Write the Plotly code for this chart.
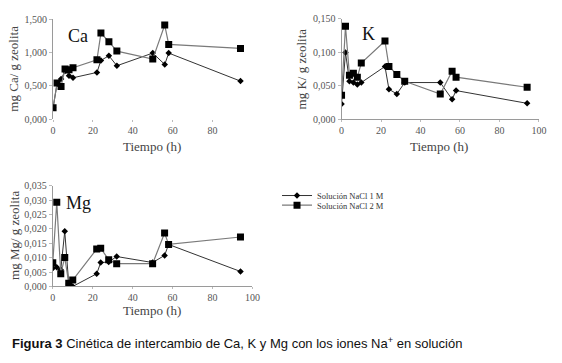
import plotly.graph_objects as go

# ---- data ----
time_h = [0, 2, 4, 6, 8, 10, 22, 24, 28, 32, 50, 56, 58, 94]

ca_1m = [0.17, 0.53, 0.60, 0.72, 0.65, 0.62, 0.70, 0.88, 0.95, 0.80, 0.99, 0.82, 0.99, 0.57]
ca_2m = [0.17, 0.54, 0.49, 0.75, 0.74, 0.77, 0.89, 1.29, 1.16, 1.02, 0.90, 1.41, 1.12, 1.06]

k_1m = [0.023, 0.100, 0.057, 0.055, 0.052, 0.055, 0.079, 0.045, 0.038, 0.055, 0.055, 0.030, 0.043, 0.024]
k_2m = [0.036, 0.139, 0.066, 0.069, 0.063, 0.084, 0.117, 0.079, 0.067, 0.057, 0.038, 0.072, 0.063, 0.048]

mg_1m = [0.0063, 0.0067, 0.0058, 0.0192, 0.0008, 0.0000, 0.0044, 0.0083, 0.0085, 0.0104, 0.0083, 0.0108, 0.0146, 0.0052]
mg_2m = [0.0082, 0.0293, 0.0044, 0.0101, 0.0011, 0.0022, 0.0130, 0.0133, 0.0093, 0.0079, 0.0079, 0.0186, 0.0146, 0.0172]

x_tickvals = [0, 20, 40, 60, 80, 100]
x_ticklabels = ["0", "20", "40", "60", "80", "100"]
ca_x_tickvals = [0, 20, 40, 60, 80]
ca_x_ticklabels = ["0", "20", "40", "60", "80"]

ca_tickvals = [0, 0.5, 1.0, 1.5]
ca_ticklabels = ["0,000", "0,500", "1,000", "1,500"]
k_tickvals = [0, 0.05, 0.10, 0.15]
k_ticklabels = ["0,000", "0,050", "0,100", "0,150"]
mg_tickvals = [0, 0.005, 0.010, 0.015, 0.020, 0.025, 0.030, 0.035]
mg_ticklabels = ["0,000", "0,005", "0,010", "0,015", "0,020", "0,025", "0,030", "0,035"]

series_names = ["Solución NaCl 1 M", "Solución NaCl 2 M"]

W, H = 562, 363
SERIF = "Liberation Serif, Times New Roman, serif"
LINE1 = "#333333"
LINE2 = "#7a7a7a"
AXIS_COL = "#9a9a9a"
TICK_FONT = dict(family=SERIF, size=10, color="#555555")


def px_x(p):
    return p / W


def px_y(p):
    return 1 - p / H


fig = go.Figure()

panels = [
    ("x", "y", ca_1m, ca_2m),
    ("x2", "y2", k_1m, k_2m),
    ("x3", "y3", mg_1m, mg_2m),
]
for i, (xa, ya, s1, s2) in enumerate(panels):
    fig.add_trace(go.Scatter(
        x=time_h, y=s1, xaxis=xa, yaxis=ya, mode="lines+markers",
        name=series_names[0], showlegend=(i == 0), legend="legend",
        line=dict(color=LINE1, width=1),
        marker=dict(symbol="diamond", size=5, color="#000000"),
    ))
    fig.add_trace(go.Scatter(
        x=time_h, y=s2, xaxis=xa, yaxis=ya, mode="lines+markers",
        name=series_names[1], showlegend=(i == 0), legend="legend2",
        line=dict(color=LINE2, width=1.2),
        marker=dict(symbol="square", size=7, color="#000000"),
    ))


def xaxis(domain, anchor, vals, ticktext, showline=True):
    return dict(
        domain=domain, anchor=anchor, range=[0, 100],
        tickvals=vals, ticktext=ticktext,
        showgrid=False, zeroline=False,
        showline=showline, linecolor=AXIS_COL, linewidth=1,
        ticks="outside", ticklen=2, tickcolor="#bbbbbb", tickwidth=1,
        tickfont=TICK_FONT,
    )


def yaxis(domain, anchor, rng, vals, text):
    return dict(
        domain=domain, anchor=anchor, range=rng,
        tickvals=vals, ticktext=text,
        showgrid=False, zeroline=False,
        showline=True, linecolor=AXIS_COL, linewidth=1,
        ticks="outside", ticklen=3, tickcolor="#bbbbbb", tickwidth=1,
        tickfont=TICK_FONT,
    )


ca_xd = [px_x(52), px_x(255)]
ca_yd = [px_y(117), px_y(13.5)]
k_xd = [px_x(345.7), px_x(546.7)]
k_yd = [px_y(117.3), px_y(13.3)]
mg_xd = [px_x(51.7), px_x(255)]
mg_yd = [px_y(290), px_y(186)]

annotations = []


def ann(text, x, y, size, color="#333333", angle=0, xanchor="center", family=SERIF):
    annotations.append(dict(
        text=text, x=px_x(x), y=px_y(y), xref="paper", yref="paper",
        showarrow=False, textangle=angle, xanchor=xanchor, yanchor="middle",
        font=dict(family=family, size=size, color=color),
    ))


# panel labels
ann("Ca", 77, 31, 18, color="#111111")
ann("K", 373, 29, 18, color="#111111")
ann("Mg", 78, 204, 18, color="#111111")

# axis titles
ann("Tiempo (h)", 153, 145, 13, color="#444444")
ann("Tiempo (h)", 445, 145, 13, color="#444444")
ann("Tiempo (h)", 153, 315, 13, color="#444444")
ann("mg Ca/ g zeolita", 12, 65, 13, color="#444444", angle=-90)
ann("mg K/ g zeolita", 305, 65, 13, color="#444444", angle=-90)
ann("mg Mg/ g zeolita", 12, 237, 13, color="#444444", angle=-90)

# caption
ann("<b>Figura 3</b> Cinética de intercambio de Ca, K y Mg con los iones Na<sup>+</sup> en solución",
    8, 349, 13, color="#111111", xanchor="left",
    family="Liberation Sans Narrow, Arial Narrow, Liberation Sans, Arial, sans-serif")

legend_common = dict(
    xref="paper", yref="paper", xanchor="left", yanchor="middle",
    bgcolor="rgba(0,0,0,0)", borderwidth=0,
    font=dict(family=SERIF, size=8.5, color="#333333"),
    itemwidth=30, tracegroupgap=0,
)

fig.update_layout(
    width=W, height=H,
    margin=dict(l=0, r=0, t=0, b=0),
    paper_bgcolor="white", plot_bgcolor="white",
    xaxis=xaxis(ca_xd, "y", ca_x_tickvals, ca_x_ticklabels, showline=False),
    yaxis=yaxis(ca_yd, "x", [0, 1.5], ca_tickvals, ca_ticklabels),
    xaxis2=xaxis(k_xd, "y2", x_tickvals, x_ticklabels),
    yaxis2=yaxis(k_yd, "x2", [0, 0.15], k_tickvals, k_ticklabels),
    xaxis3=xaxis(mg_xd, "y3", x_tickvals, x_ticklabels),
    yaxis3=yaxis(mg_yd, "x3", [0, 0.035], mg_tickvals, mg_ticklabels),
    legend=dict(x=px_x(280), y=px_y(196), **legend_common),
    legend2=dict(x=px_x(280), y=px_y(206), **legend_common),
    annotations=annotations,
    showlegend=True,
)

fig.write_html(
    "out.html",
    config={"displayModeBar": False},
    post_script="document.body.style.margin='0';document.body.style.overflow='hidden';",
)
